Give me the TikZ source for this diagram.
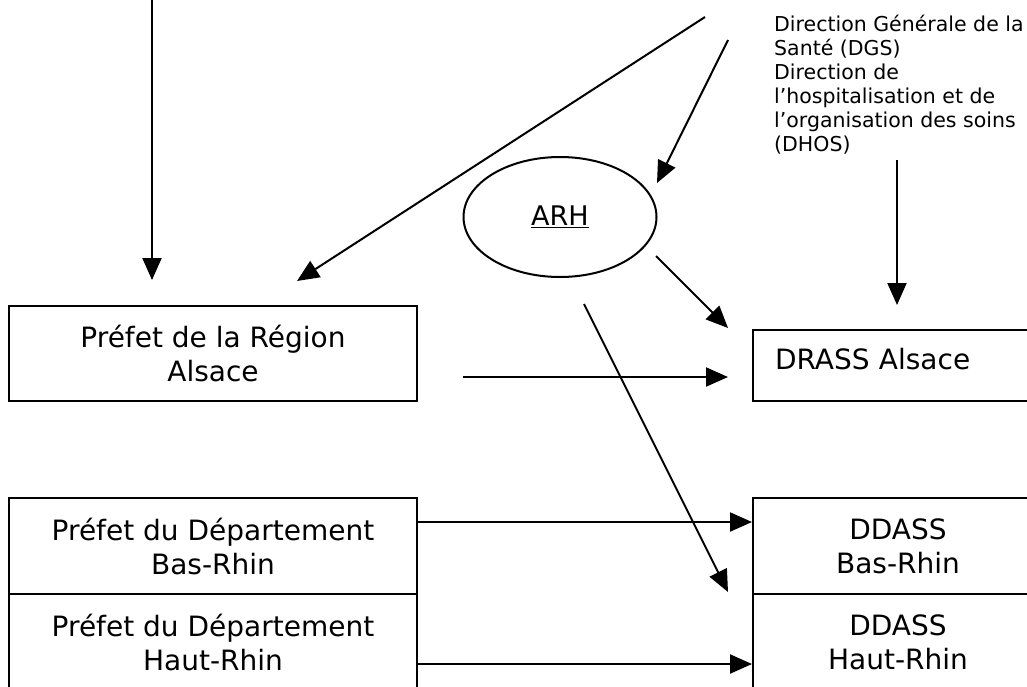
\documentclass[tikz,border=0pt]{standalone}
\usepackage{fontspec}
\setmainfont{DejaVu Sans}
\usetikzlibrary{shapes.geometric,arrows.meta}

\begin{document}
\begin{tikzpicture}[x=1pt,y=-1pt]
\path[use as bounding box] (0,0) rectangle (1027,686);
\clip (0,0) rectangle (1027,686);

\tikzstyle{box}=[draw,line width=2pt,minimum width=408pt,minimum height=96pt,
  inner sep=0pt,anchor=north west,align=center,font=\fontsize{28}{34}\selectfont]
\tikzstyle{arr}=[line width=2pt,-{Triangle[length=22pt,width=19pt]}]

\node[anchor=north west,align=left,inner sep=0pt,font=\fontsize{20.5}{24}\selectfont] (dgs) at (774,15)
  {Direction Générale de la\\Santé (DGS)\\Direction de\\l’hospitalisation et de\\l’organisation des soins\\(DHOS)};
\node[draw,ellipse,line width=2pt,minimum width=193pt,minimum height=120pt,
  font=\fontsize{27}{34}\selectfont] (arh) at (560,217) {\underline{ARH}};

\node[box,minimum height=95pt] (region) at (8,305) {Préfet de la Région\\Alsace};
\node[box,minimum width=290pt,minimum height=71pt,text width=246pt,align=left,
  text depth=14pt] (drass) at (752,329) {DRASS Alsace};
\node[box] (pbas) at (8,497) {Préfet du Département\\Bas-Rhin};
\node[box] (phaut) at (8,593) {Préfet du Département\\Haut-Rhin};
\node[box,minimum width=290pt] (dbas) at (752,497) {DDASS\\Bas-Rhin};
\node[box,minimum width=290pt] (dhaut) at (752,593) {DDASS\\Haut-Rhin};

\coordinate (e1) at (152,0);   \coordinate (f1) at (152,280);
\coordinate (e2) at (705,17);  \coordinate (f2) at (297,281);
\coordinate (e3) at (728,40);  \coordinate (f3) at (657,183);
\coordinate (e4) at (897,160); \coordinate (f4) at (897,305);
\coordinate (e5) at (656,256); \coordinate (f5) at (728,328);
\coordinate (e6) at (584,304); \coordinate (f6) at (728,592);
\coordinate (e7) at (463,377); \coordinate (f7) at (728,377);

\draw[arr] (e1) -- (f1);
\draw[arr] (e2) -- (f2);
\draw[arr] (e3) -- (f3);
\draw[arr] (e4) -- (f4);
\draw[arr] (e5) -- (f5);
\draw[arr] (e6) -- (f6);
\draw[arr] (e7) -- (f7);
\draw[arr] ([yshift=24pt]pbas.east) -- ([yshift=24pt]dbas.west);
\draw[arr] ([yshift=-22pt]phaut.east) -- ([yshift=-22pt]dhaut.west);
\end{tikzpicture}
\end{document}
